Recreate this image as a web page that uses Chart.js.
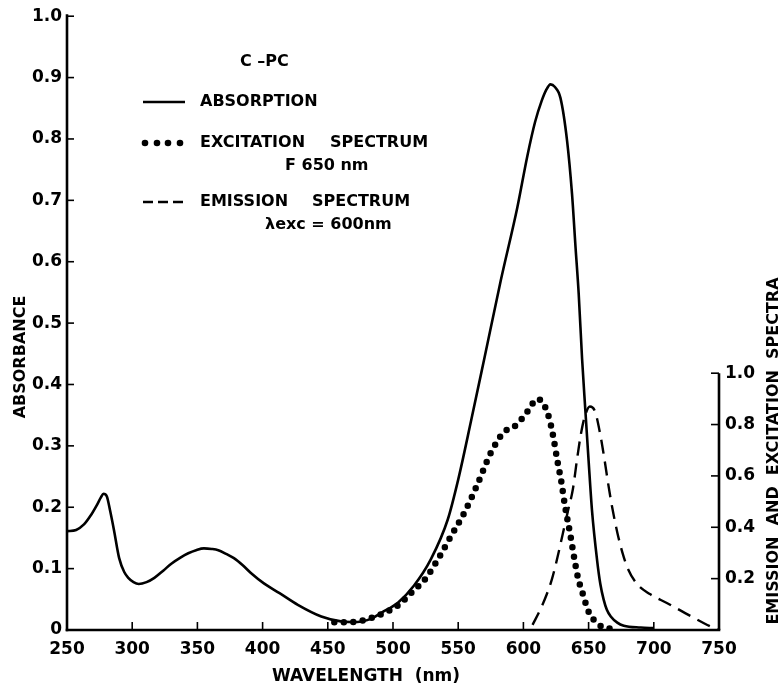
<!DOCTYPE html>
<html>
<head>
<meta charset="utf-8">
<script src="https://cdn.jsdelivr.net/npm/chart.js@4/dist/chart.umd.min.js"></script>
<style>
  html, body { margin: 0; padding: 0; background: #fff; }
  canvas { display: block; }
</style>
</head>
<body>
<canvas id="c" width="783" height="692"></canvas>
<script>
// ---------- DATA ----------
// Absorption (left axis, absorbance)
const absWavelength = [250, 257, 263, 268, 273, 276, 278, 280.5, 283, 286, 290, 294, 297, 301, 305, 311, 317, 324, 330, 337, 343, 349, 355, 361, 366, 372, 378, 385, 391, 401, 413, 427, 445, 460, 468, 476, 484, 491, 504, 516, 529, 542, 550, 560, 570, 582.6, 595.3, 603, 609, 614, 617.5, 620.8, 624, 628.4, 633.5, 637.3, 640, 642.4, 645, 647.5, 650, 652.6, 656.5, 659, 661.5, 664, 667, 672, 677, 690, 700];
const absValues     = [0.161, 0.163, 0.172, 0.186, 0.204, 0.216, 0.222, 0.218, 0.195, 0.163, 0.117, 0.094, 0.085, 0.078, 0.075, 0.078, 0.085, 0.097, 0.108, 0.118, 0.125, 0.130, 0.133, 0.132, 0.130, 0.124, 0.117, 0.105, 0.093, 0.076, 0.060, 0.041, 0.022, 0.014, 0.013, 0.014, 0.019, 0.028, 0.045, 0.072, 0.115, 0.180, 0.245, 0.342, 0.442, 0.569, 0.688, 0.772, 0.828, 0.862, 0.880, 0.889, 0.885, 0.867, 0.797, 0.710, 0.623, 0.548, 0.442, 0.358, 0.276, 0.195, 0.114, 0.075, 0.050, 0.033, 0.022, 0.012, 0.007, 0.004, 0.003];

// Excitation spectrum, F 650 nm (right axis)
const excWavelength = [455, 465, 475, 485, 495, 505, 515, 525, 535, 545, 555, 565, 575, 585, 595, 603, 611, 616, 620, 623, 626, 629, 632, 636, 639, 642, 645, 648, 651, 656, 661, 668];
const excValues     = [0.03, 0.03, 0.035, 0.05, 0.07, 0.10, 0.15, 0.20, 0.28, 0.37, 0.46, 0.57, 0.69, 0.77, 0.80, 0.85, 0.90, 0.875, 0.82, 0.75, 0.66, 0.58, 0.48, 0.37, 0.28, 0.20, 0.15, 0.10, 0.06, 0.03, 0.01, 0.005];

// Emission spectrum, λexc = 600 nm (right axis)
const emWavelength = [607, 613, 618, 622, 626, 630, 634, 638, 641, 644, 647, 651, 655, 659, 662, 665, 668, 672, 676, 680, 687, 697, 710, 728, 745, 750];
const emValues     = [0.02, 0.08, 0.14, 0.20, 0.28, 0.37, 0.46, 0.55, 0.66, 0.76, 0.83, 0.87, 0.85, 0.76, 0.67, 0.57, 0.48, 0.38, 0.30, 0.24, 0.18, 0.14, 0.105, 0.055, 0.01, 0.0];

// Tick values / labels
const xTicks = [250, 300, 350, 400, 450, 500, 550, 600, 650, 700, 750];
const leftTicks = [0, 0.1, 0.2, 0.3, 0.4, 0.5, 0.6, 0.7, 0.8, 0.9, 1.0];
const leftTickLabels = ['0', '0.1', '0.2', '0.3', '0.4', '0.5', '0.6', '0.7', '0.8', '0.9', '1.0'];
const rightTicks = [0.2, 0.4, 0.6, 0.8, 1.0];
const rightTickLabels = ['0.2', '0.4', '0.6', '0.8', '1.0'];
// right axis full scale (its 1.0 sits at absorbance ≈ 0.418)
const rightAxisMax = 2.39;

// ---------- CHART ----------
const FONT = '"DejaVu Sans", sans-serif';
const toPts = (xs, ys) => xs.map((v, i) => ({ x: v, y: ys[i] }));

const decor = {
  id: 'decor',
  afterDraw(chart) {
    const { ctx, scales } = chart;
    const x = scales.x, y = scales.y, y2 = scales.y2;
    const x0 = x.getPixelForValue(250), x1 = x.getPixelForValue(750);
    const yb = y.getPixelForValue(0), yt = y.getPixelForValue(1.0);
    const line = (a, b, c, d) => { ctx.beginPath(); ctx.moveTo(a, b); ctx.lineTo(c, d); ctx.stroke(); };
    ctx.save();
    ctx.strokeStyle = '#000';
    ctx.lineCap = 'butt';
    ctx.lineWidth = 2.6;
    // left axis and bottom axis
    line(x0, yt - 2, x0, yb + 1.3);
    line(x0 - 1.3, yb, x1 + 1.3, yb);
    ctx.lineWidth = 1.6;
    leftTicks.forEach(v => { if (v > 0) { const p = y.getPixelForValue(v); line(x0, p, x0 + 7, p); } });
    xTicks.forEach(v => { if (v > 250 && v < 750) { const p = x.getPixelForValue(v); line(p, yb, p, yb - 8); } });
    // right axis (only 0..1.0 of its scale)
    const ry1 = y2.getPixelForValue(1.0);
    ctx.lineWidth = 2.6;
    line(x1, yb, x1, ry1);
    ctx.lineWidth = 1.6;
    rightTicks.forEach(v => { const p = y2.getPixelForValue(v); line(x1, p, x1 - 8, p); });

    // axis titles
    ctx.fillStyle = '#000';
    ctx.textBaseline = 'middle';
    ctx.font = 'bold 17px ' + FONT;
    ctx.textAlign = 'left';
    ctx.fillText('WAVELENGTH  (nm)', 272, 677);

    ctx.save();
    ctx.translate(21, 357);
    ctx.rotate(-Math.PI / 2);
    ctx.textAlign = 'center';
    ctx.font = 'bold 16px ' + FONT;
    ctx.fillText('ABSORBANCE', 0, 0);
    ctx.restore();

    ctx.save();
    ctx.translate(774, 451);
    ctx.rotate(-Math.PI / 2);
    ctx.textAlign = 'center';
    ctx.font = 'bold 16px ' + FONT;
    ctx.fillText('EMISSION  AND  EXCITATION  SPECTRA', 0, 0);
    ctx.restore();

    // legend block
    const ds = chart.data.datasets;
    ctx.font = 'bold 16px ' + FONT;
    ctx.textAlign = 'left';
    ctx.fillText('C –PC', 240, 62);

    // absorption sample
    ctx.lineWidth = ds[0].borderWidth;
    ctx.setLineDash([]);
    line(143, 102, 185, 102);
    ctx.fillText('ABSORPTION', 200, 102);

    // excitation sample (dots)
    [145, 157, 168, 180].forEach(cx => { ctx.beginPath(); ctx.arc(cx, 143, 3.3, 0, Math.PI * 2); ctx.fill(); });
    ctx.fillText('EXCITATION', 200, 143);
    ctx.fillText('SPECTRUM', 330, 143);
    ctx.fillText('F 650 nm', 285, 166);

    // emission sample (dashes)
    ctx.lineWidth = ds[2].borderWidth;
    ctx.setLineDash([10, 5]);
    line(143, 202, 187, 202);
    ctx.setLineDash([]);
    ctx.fillText('EMISSION', 200, 202);
    ctx.fillText('SPECTRUM', 312, 202);
    ctx.fillText('λexc = 600nm', 265, 225);
    ctx.restore();
  }
};

new Chart(document.getElementById('c'), {
  type: 'line',
  data: {
    datasets: [
      {
        label: 'ABSORPTION',
        data: toPts(absWavelength, absValues),
        yAxisID: 'y',
        borderColor: '#000',
        borderWidth: 2.6,
        pointRadius: 0,
        fill: false,
        cubicInterpolationMode: 'monotone'
      },
      {
        label: 'EXCITATION SPECTRUM F 650 nm',
        data: toPts(excWavelength, excValues),
        yAxisID: 'y2',
        borderColor: '#000',
        borderWidth: 6.5,
        borderDash: [0, 9.5],
        borderCapStyle: 'round',
        pointRadius: 0,
        fill: false,
        cubicInterpolationMode: 'monotone'
      },
      {
        label: 'EMISSION SPECTRUM λexc = 600nm',
        data: toPts(emWavelength, emValues),
        yAxisID: 'y2',
        borderColor: '#000',
        borderWidth: 2.4,
        borderDash: [14, 8],
        pointRadius: 0,
        fill: false,
        cubicInterpolationMode: 'monotone'
      }
    ]
  },
  options: {
    responsive: false,
    animation: false,
    devicePixelRatio: 1,
    layout: { padding: { left: 0, right: 0, top: 15, bottom: 0 } },
    plugins: { legend: { display: false }, tooltip: { enabled: false } },
    scales: {
      x: {
        type: 'linear',
        min: 250, max: 750,
        afterBuildTicks: s => { s.ticks = xTicks.map(v => ({ value: v })); },
        afterFit: s => { s.height = 62; },
        grid: { display: false, drawTicks: false },
        border: { display: false },
        ticks: {
          color: '#000', padding: 9, maxRotation: 0, autoSkip: false,
          font: { family: FONT, size: 17, weight: 'bold' },
          callback: v => String(v)
        }
      },
      y: {
        position: 'left',
        min: 0, max: 1.0,
        afterBuildTicks: s => { s.ticks = leftTicks.map(v => ({ value: v })); },
        afterFit: s => { s.width = 67; },
        grid: { display: false, drawTicks: false },
        border: { display: false },
        ticks: {
          color: '#000', padding: 5, autoSkip: false,
          font: { family: FONT, size: 17, weight: 'bold' },
          callback: (v) => { const i = leftTicks.findIndex(t => Math.abs(t - v) < 1e-6); return i >= 0 ? leftTickLabels[i] : ''; }
        }
      },
      y2: {
        position: 'right',
        min: 0, max: rightAxisMax,
        afterBuildTicks: s => { s.ticks = rightTicks.map(v => ({ value: v })); },
        afterFit: s => { s.width = 64; },
        grid: { display: false, drawTicks: false },
        border: { display: false },
        ticks: {
          color: '#000', padding: 6, autoSkip: false,
          font: { family: FONT, size: 17, weight: 'bold' },
          callback: (v) => { const i = rightTicks.findIndex(t => Math.abs(t - v) < 1e-6); return i >= 0 ? rightTickLabels[i] : ''; }
        }
      }
    }
  },
  plugins: [decor]
});
</script>
</body>
</html>
